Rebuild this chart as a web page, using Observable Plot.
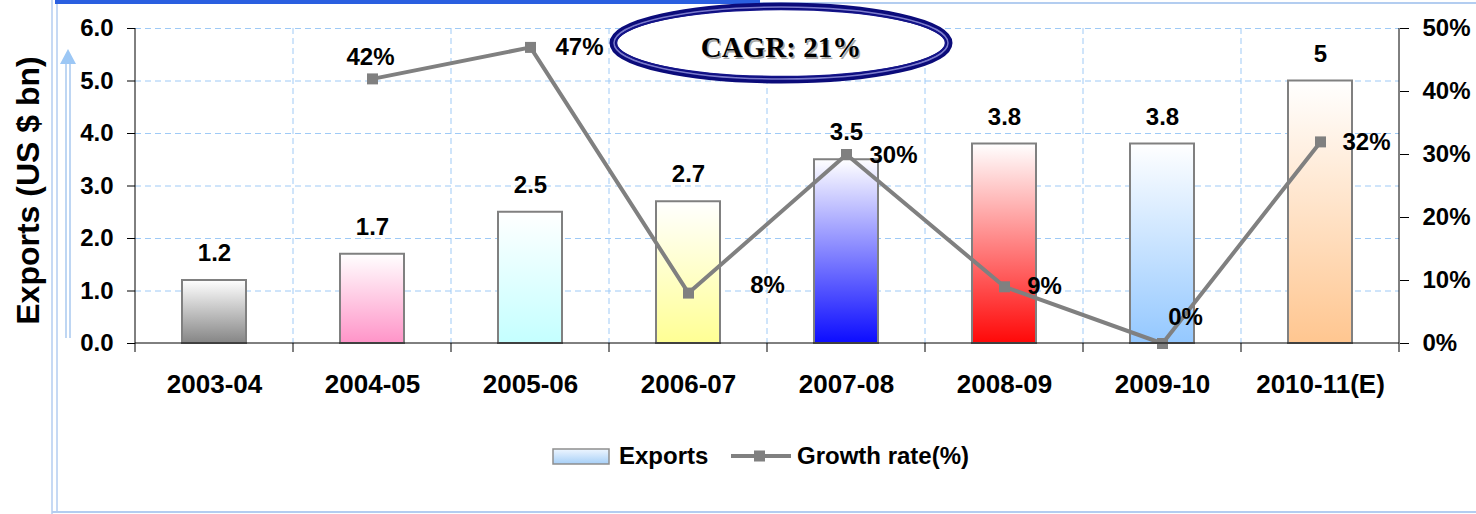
<!DOCTYPE html>
<html><head><meta charset="utf-8">
<script src="https://cdn.jsdelivr.net/npm/d3@7"></script>
<script src="https://cdn.jsdelivr.net/npm/@observablehq/plot@0.6"></script>
<style>
html,body{margin:0;padding:0;background:#fff;}
#chart{position:relative;width:1476px;height:514px;overflow:hidden;}
</style></head><body><div id="chart"></div>
<script>
// ---- data ----
const categories = ["2003-04","2004-05","2005-06","2006-07","2007-08","2008-09","2009-10","2010-11(E)"];
const exportsBn = [1.2, 1.7, 2.5, 2.7, 3.5, 3.8, 3.8, 5];
const growthPct = [null, 42, 47, 8, 30, 9, 0, 32];
const leftTicks = [0, 1, 2, 3, 4, 5, 6];
const rightTicks = [0, 10, 20, 30, 40, 50];
const yTitle = "Exports (US $ bn)";
const legendLabels = ["Exports", "Growth rate(%)"];
const cagrText = "CAGR: 21%";

// ---- styles ----
const barColors = ["#858585","#ff94c8","#c4ffff","#ffff94","#0c0cff","#ff0808","#94c8ff","#ffc690"];
const pctLabelOffset = [null,[-2,-22],[49,0],[79,-8],[47,1],[40,0],[23,-26],[46,0]];
const leftMax = 6, rightMax = 50;
const toLeft = p => p * leftMax / rightMax;

const rows = categories.map((c, i) => ({cat: c, value: exportsBn[i], growth: growthPct[i], i}));
const gRows = rows.filter(d => d.growth != null);

const FS = 24;
const svg = Plot.plot({
  width: 1476, height: 514,
  marginLeft: 135, marginRight: 77, marginTop: 28, marginBottom: 171,
  style: {fontFamily: "Liberation Sans, Arial, sans-serif", fontWeight: "bold", background: "transparent", color: "#000", overflow: "visible"},
  x: {domain: categories, padding: 0},
  y: {domain: [0, leftMax]},
  marks: [
    Plot.gridY(leftTicks.slice(1), {stroke: "#9fcaf6", strokeOpacity: 1, strokeWidth: 1, strokeDasharray: "6,4"}),
    ...rows.map(r => Plot.barY([r], {x: "cat", y: "value", fill: `url(#bg${r.i})`, stroke: "#808080", strokeWidth: 2, insetLeft: 47, insetRight: 47})),
    Plot.axisY(leftTicks, {anchor: "left", tickSize: 8, tickPadding: 14, tickFormat: d3.format(".1f"), fontSize: FS, fontWeight: "bold", label: null, stroke: "#000"}),
    Plot.axisY(rightTicks.map(toLeft), {anchor: "right", tickSize: 9, tickPadding: 14, tickFormat: d => Math.round(d * rightMax / leftMax) + "%", fontSize: FS, fontWeight: "bold", label: null, stroke: "#000"}),
    Plot.axisX({tickSize: 0, tickPadding: 31, fontSize: 26, fontWeight: "bold", label: null}),
    Plot.line(gRows, {x: "cat", y: d => toLeft(d.growth), stroke: "#808080", strokeWidth: 4}),
    Plot.dot(gRows, {x: "cat", y: d => toLeft(d.growth), symbol: "square", r: 6.2, fill: "#808080", stroke: "none"}),
    Plot.text(rows, {x: "cat", y: "value", text: d => String(d.value), dy: -27, fontSize: FS, fontWeight: "bold", fill: "#000"}),
    ...gRows.map(r => Plot.text([r], {x: "cat", y: d => toLeft(d.growth), text: d => d.growth + "%", dx: pctLabelOffset[r.i][0], dy: pctLabelOffset[r.i][1], fontSize: FS, fontWeight: "bold", fill: "#000"})),
    Plot.text([yTitle], {frameAnchor: "left", text: d => d, rotate: -90, textAnchor: "middle", dx: -107, dy: 4.5, fontSize: 32, fontWeight: "bold", fill: "#000"})
  ]
});

const s = d3.select(svg);
const xs = svg.scale("x"), ys = svg.scale("y");
const x0 = xs.range[0], x1 = xs.range[1];
const yb = ys.apply(0), yt = ys.apply(leftMax);

// defs: gradients
const defs = s.insert("defs", ":first-child");
barColors.forEach((c, i) => {
  const g = defs.append("linearGradient").attr("id", "bg" + i).attr("x1", 0).attr("y1", 0).attr("x2", 0).attr("y2", 1);
  g.append("stop").attr("offset", "0%").attr("stop-color", "#ffffff");
  g.append("stop").attr("offset", "100%").attr("stop-color", c);
});
const lg = defs.append("linearGradient").attr("id", "lgx").attr("x1", 0).attr("y1", 0).attr("x2", 0).attr("y2", 1);
lg.append("stop").attr("offset", "0%").attr("stop-color", "#eef6ff");
lg.append("stop").attr("offset", "100%").attr("stop-color", "#a6cff7");

// background decorations (behind marks)
const back = s.insert("g", "g");
back.append("line").attr("x1", 52).attr("x2", 52).attr("y1", 0).attr("y2", 514).attr("stroke", "#b3cdf0").attr("stroke-width", 1.5);
back.append("line").attr("x1", 57).attr("x2", 57).attr("y1", 4).attr("y2", 512).attr("stroke", "#b3cdf0").attr("stroke-width", 1.5);
back.append("line").attr("x1", 52).attr("x2", 1476).attr("y1", 512).attr("y2", 512).attr("stroke", "#b3cdf0").attr("stroke-width", 2);
back.append("rect").attr("x", 55).attr("y", 0).attr("width", 705).attr("height", 4).attr("fill", "#2a5fe0");
back.append("line").attr("x1", 760).attr("x2", 1476).attr("y1", 3).attr("y2", 3).attr("stroke", "#b3cdf0").attr("stroke-width", 2);
back.append("line").attr("x1", 66).attr("x2", 66).attr("y1", 64).attr("y2", 338).attr("stroke", "#a9c9ef").attr("stroke-width", 1.5);
back.append("line").attr("x1", 70).attr("x2", 70).attr("y1", 64).attr("y2", 338).attr("stroke", "#a9c9ef").attr("stroke-width", 1.5);
back.append("path").attr("d", "M68,49 L60,64 L76,64 Z").attr("fill", "#9cc7f5");
categories.slice(1).forEach(c => {
  const x = xs.apply(c);
  back.append("line").attr("x1", x).attr("x2", x).attr("y1", yt).attr("y2", yb).attr("stroke", "#9fcaf6").attr("stroke-dasharray", "6,4");
});

// axis lines and x ticks
const fg = s.append("g").attr("stroke", "#000").attr("stroke-width", 1);
fg.append("line").attr("x1", x0).attr("x2", x0).attr("y1", yt).attr("y2", yb);
fg.append("line").attr("x1", x1).attr("x2", x1).attr("y1", yt).attr("y2", yb);
fg.append("line").attr("x1", x0).attr("x2", x1).attr("y1", yb).attr("y2", yb);
categories.forEach(c => {
  const x = xs.apply(c);
  fg.append("line").attr("x1", x).attr("x2", x).attr("y1", yb).attr("y2", yb + 9);
});
fg.append("line").attr("x1", x1).attr("x2", x1).attr("y1", yb).attr("y2", yb + 9);

// CAGR ellipse
const eg = s.append("g").attr("text-anchor", "middle");
eg.append("ellipse").attr("cx", 781).attr("cy", 43).attr("rx", 168).attr("ry", 37).attr("fill", "#fff").attr("stroke", "#0b0b7a").attr("stroke-width", 7);
eg.append("ellipse").attr("cx", 781).attr("cy", 43).attr("rx", 167).attr("ry", 36).attr("fill", "none").attr("stroke", "#7b7bcc").attr("stroke-width", 1.5);
eg.append("ellipse").attr("cx", 781).attr("cy", 43).attr("rx", 164.5).attr("ry", 33.5).attr("fill", "none").attr("stroke", "#14148a").attr("stroke-width", 1.5);
eg.append("text").attr("x", 782.5).attr("y", 48.5).attr("dy", "0.35em")
  .attr("font-family", "Liberation Serif, Times New Roman, serif").attr("font-weight", "bold").attr("font-size", 29).attr("fill", "#aaa").text(cagrText);
eg.append("text").attr("x", 781).attr("y", 47).attr("dy", "0.35em")
  .attr("font-family", "Liberation Serif, Times New Roman, serif").attr("font-weight", "bold").attr("font-size", 29).attr("fill", "#000").text(cagrText);

// legend
const lgG = s.append("g").attr("font-family", "Liberation Sans, Arial, sans-serif").attr("font-weight", "bold").attr("font-size", FS).attr("text-anchor", "start");
lgG.append("rect").attr("x", 553).attr("y", 449).attr("width", 56).attr("height", 15).attr("fill", "url(#lgx)").attr("stroke", "#8e8e8e").attr("stroke-width", 1.5);
lgG.append("text").attr("x", 619).attr("y", 456).attr("dy", "0.35em").text(legendLabels[0]);
lgG.append("line").attr("x1", 731).attr("x2", 791).attr("y1", 456).attr("y2", 456).attr("stroke", "#808080").attr("stroke-width", 4);
lgG.append("rect").attr("x", 754).attr("y", 450.5).attr("width", 11).attr("height", 11).attr("fill", "#808080");
lgG.append("text").attr("x", 797).attr("y", 456).attr("dy", "0.35em").text(legendLabels[1]);

document.getElementById("chart").appendChild(svg);
</script></body></html>
